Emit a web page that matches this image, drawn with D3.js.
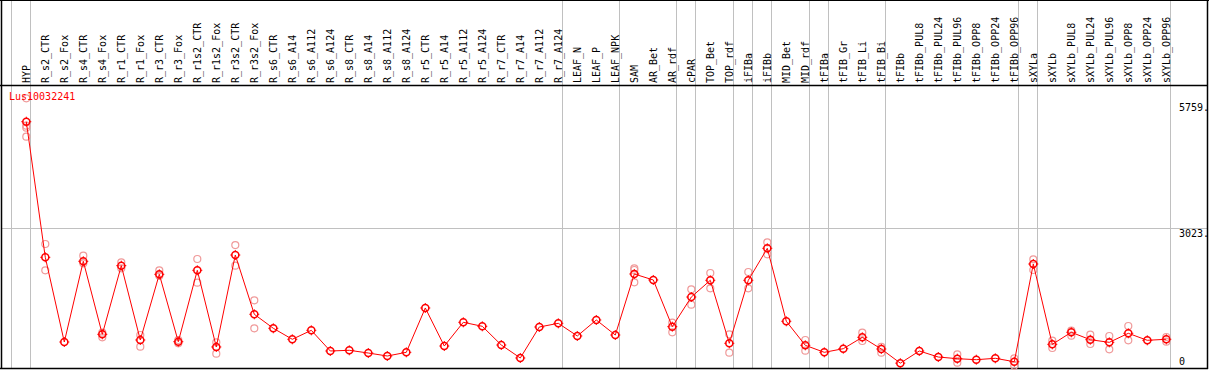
<!DOCTYPE html>
<html>
<head>
<meta charset="utf-8">
<script src="https://cdn.jsdelivr.net/npm/d3@7"></script>
<style>
  body { margin: 0; background: #fff; }
  svg { display: block; }
  text { font-family: "DejaVu Sans Mono", monospace; font-size: 10px; }
</style>
</head>
<body>
<svg id="chart" width="1209" height="370"></svg>
<script>
// sample names (column headers)
const samples = ["HYP", "R_s2_CTR", "R_s2_Fox", "R_s4_CTR", "R_s4_Fox", "R_r1_CTR", "R_r1_Fox",
  "R_r3_CTR", "R_r3_Fox", "R_r1s2_CTR", "R_r1s2_Fox", "R_r3s2_CTR", "R_r3s2_Fox", "R_s6_CTR",
  "R_s6_A14", "R_s6_A112", "R_s6_A124", "R_s8_CTR", "R_s8_A14", "R_s8_A112", "R_s8_A124",
  "R_r5_CTR", "R_r5_A14", "R_r5_A112", "R_r5_A124", "R_r7_CTR", "R_r7_A14", "R_r7_A112",
  "R_r7_A124", "LEAF_N", "LEAF_P", "LEAF_NPK", "SAM", "AR_Bet", "AR_rdf", "cPAR", "TOP_Bet",
  "TOP_rdf", "iFIBa", "iFIBb", "MID_Bet", "MID_rdf", "tFIBa", "tFIB_Gr", "tFIB_Li", "tFIB_Bi",
  "tFIBb", "tFIBb_PUL8", "tFIBb_PUL24", "tFIBb_PUL96", "tFIBb_OPP8", "tFIBb_OPP24", "tFIBb_OPP96",
  "sXYLa", "sXYLb", "sXYLb_PUL8", "sXYLb_PUL24", "sXYLb_PUL96", "sXYLb_OPP8", "sXYLb_OPP24",
  "sXYLb_OPP96"];

// mean expression per sample
const means = [5331, 2386, 547, 2300, 714, 2205, 591, 2017, 554, 2104, 439, 2436, 1149, 845,
  606, 801, 352, 367, 308, 243, 323, 1286, 460, 975, 888, 482, 200, 873, 953, 678, 1025,
  699, 2024, 1894, 880, 1524, 1887, 519, 1887, 2582, 997, 475, 323, 402, 649, 395,
  88, 352, 221, 185, 163, 193, 119, 2241, 497, 758, 597, 540, 736, 584, 606];

// individual replicates per sample
const replicates = [
  [5839, 5244, 5201, 5005], [2675, 2104], [], [2422, 2256], [749, 649], [2278, 2147], [699, 445],
  [2104, 1987], [591, 519], [2350, 1835], [540, 293], [2653, 2205], [1453, 845], [],
  [], [], [], [], [], [], [],
  [], [], [], [], [], [], [],
  [], [], [],
  [], [2147, 2111, 1844], [], [966, 758], [1692, 1357], [2046, 1713],
  [714, 315], [2067, 1713], [2712, 2452], [], [591, 358], [], [], [749, 569], [440, 315],
  [], [], [], [280, 98], [], [], [193, 33],
  [2343, 2111], [575, 417], [793, 684], [706, 504], [678, 388], [895, 584], [], [656, 554]];

// samples followed by a group separator
const groupEnds = ["HYP", "R_r7_A124", "LEAF_NPK", "AR_rdf", "cPAR", "TOP_rdf", "iFIBa", "iFIBb",
  "MID_rdf", "tFIBa", "tFIB_Bi", "tFIBb_OPP96", "sXYLa", "sXYLb_OPP96"];

const yTicks = [5759, 3023, 0];
const geneName = "Lus10032241";

const svg = d3.select("#chart");
const W = 1209;
const boxLeft = 1, boxRight = 1207, boxTop = 0, headerBottom = 85, boxBottom = 368;

const x = d3.scalePoint().domain(samples).range([26.3, 26.3 + 19 * (samples.length - 1)]);
const step = x.step();
const y = d3.scaleLinear().domain([0, 5759]).range([367.2, 102]);

// vertical group separators
const sepX = [x(samples[0]) - step + 4].concat(groupEnds.map(s => x(s) + 4));
svg.append("g").selectAll("line")
  .data(sepX)
  .enter().append("line")
  .attr("x1", d => Math.round(d) + 0.5).attr("x2", d => Math.round(d) + 0.5)
  .attr("y1", boxTop).attr("y2", boxBottom)
  .attr("stroke", "#c0c0c0").attr("stroke-width", 1);

// horizontal grid line
svg.append("line")
  .attr("x1", boxLeft).attr("x2", boxRight)
  .attr("y1", Math.round(y(3023)) + 0.5).attr("y2", Math.round(y(3023)) + 0.5)
  .attr("stroke", "#c0c0c0");

// borders
svg.append("line").attr("x1", 0).attr("x2", W).attr("y1", 0.5).attr("y2", 0.5).attr("stroke", "#000");
svg.append("line").attr("x1", 0).attr("x2", boxRight + 1).attr("y1", headerBottom + 0.5).attr("y2", headerBottom + 0.5).attr("stroke", "#000").attr("stroke-width", 1.5);
svg.append("line").attr("x1", 0).attr("x2", boxRight + 1).attr("y1", boxBottom + 0.5).attr("y2", boxBottom + 0.5).attr("stroke", "#000").attr("stroke-width", 1.5);
svg.append("line").attr("x1", boxLeft + 0.5).attr("x2", boxLeft + 0.5).attr("y1", 0).attr("y2", boxBottom + 1).attr("stroke", "#000").attr("stroke-width", 1.5);
svg.append("line").attr("x1", boxRight + 0.5).attr("x2", boxRight + 0.5).attr("y1", 0).attr("y2", boxBottom + 1).attr("stroke", "#000").attr("stroke-width", 1.5);

// rotated column headers (snapped so the underscores land on a pixel column)
svg.append("g").selectAll("text")
  .data(samples)
  .enter().append("text")
  .attr("transform", d => `translate(${Math.round(x(d) + 3) + 0.6},${headerBottom - 2}) rotate(-90)`)
  .attr("fill", "#000")
  .text(d => d);

// y labels on the right
svg.append("g").selectAll("text")
  .data(yTicks)
  .enter().append("text")
  .attr("x", 1179)
  .attr("y", d => Math.min(y(d) + 9, 365))
  .attr("fill", "#000")
  .text(d => d === 0 ? "0" : d + ".");

// replicate points
const repPts = [];
replicates.forEach((r, i) => r.forEach(v => repPts.push({ s: samples[i], v })));
svg.append("g").selectAll("circle")
  .data(repPts)
  .enter().append("circle")
  .attr("cx", d => x(d.s)).attr("cy", d => y(d.v)).attr("r", 3.5)
  .attr("fill", "none").attr("stroke", "#f09a9a").attr("stroke-width", 1.2);

// mean line
const line = d3.line().x((d, i) => x(samples[i])).y(d => y(d));
svg.append("path")
  .datum(means)
  .attr("d", line)
  .attr("fill", "none").attr("stroke", "#ff0000").attr("stroke-width", 1);

// mean points
const pts = svg.append("g").selectAll("g")
  .data(means)
  .enter().append("g")
  .attr("transform", (d, i) => `translate(${x(samples[i])},${y(d)})`);
pts.append("circle").attr("r", 3.5).attr("fill", "none").attr("stroke", "#ff0000").attr("stroke-width", 1.5);
pts.append("path").attr("d", "M0,-5V-3M0,3V5M-5,0H-3M3,0H5").attr("stroke", "#ff0000").attr("stroke-width", 1);

// gene name
svg.append("text")
  .attr("x", 9).attr("y", 100)
  .attr("fill", "#ff0000")
  .text(geneName);
</script>
</body>
</html>
